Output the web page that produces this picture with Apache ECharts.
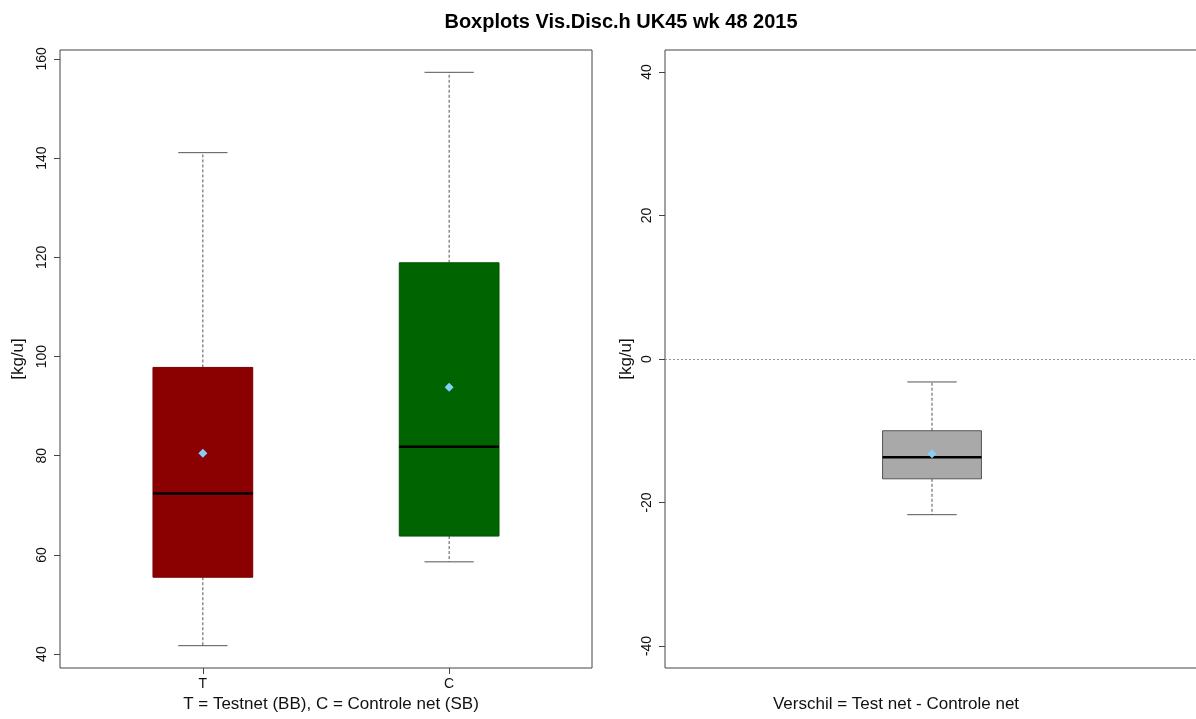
<!DOCTYPE html>
<html>
<head>
<meta charset="utf-8">
<script src="https://cdn.jsdelivr.net/npm/echarts@6/dist/echarts.min.js"></script>
<style>
html,body{margin:0;padding:0;background:#fff;overflow:hidden;width:1196px;height:719px;}
#chart{width:1204px;height:719px;}
</style>
</head>
<body>
<div id="chart"></div>
<script>
// ---- data ----
const categories = ['T', 'C'];
const lowWhisker = [41.7, 58.6];
const lowerQuartile = [55.5, 63.8];
const medians = [72.4, 81.8];
const upperQuartile = [97.8, 118.9];
const highWhisker = [141.1, 157.3];
const means = [80.5, 93.8];

const diffLow = [-21.7];
const diffLowerQuartile = [-16.7];
const diffMedian = [-13.7];
const diffUpperQuartile = [-10.0];
const diffHigh = [-3.2];
const diffMean = [-13.2];

const leftTicks = [40, 60, 80, 100, 120, 140, 160];
const rightTicks = [-40, -20, 0, 20, 40];

const titleText = 'Boxplots Vis.Disc.h UK45 wk 48 2015';
const leftXTitle = 'T = Testnet (BB), C = Controle net (SB)';
const rightXTitle = 'Verschil = Test net - Controle net';
const yName = '[kg/u]';

// ---- styles ----
const boxFills = ['#8B0000', '#006400'];
const boxStrokes = ['#7a0000', '#005500'];
const diffFill = '#A9A9A9';
const diffStroke = '#555555';
const meanColor = '#87CEFA';
const FONT = 'Liberation Sans, Arial, sans-serif';

const leftData = categories.map((c, i) => [i + 1, lowWhisker[i], lowerQuartile[i], medians[i], upperQuartile[i], highWhisker[i], means[i]]);
const rightData = diffMedian.map((m, i) => [i + 1, diffLow[i], diffLowerQuartile[i], m, diffUpperQuartile[i], diffHigh[i], diffMean[i]]);

function makeRender(boxW, capW, fills, strokes) {
  return function (params, api) {
    const x = api.value(0), lo = api.value(1), qa = api.value(2), md = api.value(3),
          qb = api.value(4), hi = api.value(5), mn = api.value(6);
    const i = params.dataIndex;
    const c = (xx, yy) => api.coord([xx, yy]);
    const pLo = c(x, lo), pA = c(x, qa), pB = c(x, qb), pHi = c(x, hi), pMn = c(x, mn);
    const tl = c(x - boxW / 2, qb), br = c(x + boxW / 2, qa);
    const mL = c(x - boxW / 2, md), mR = c(x + boxW / 2, md);
    const capL = c(x - capW / 2, hi)[0], capR = c(x + capW / 2, hi)[0];
    const whisk = {stroke: '#555', lineWidth: 1, lineDash: [3, 2]};
    const cap = {stroke: '#555', lineWidth: 1};
    const d = 4.5;
    return {
      type: 'group',
      children: [
        {type: 'line', shape: {x1: pB[0], y1: pB[1], x2: pHi[0], y2: pHi[1]}, style: whisk},
        {type: 'line', shape: {x1: pA[0], y1: pA[1], x2: pLo[0], y2: pLo[1]}, style: whisk},
        {type: 'line', shape: {x1: capL, y1: pHi[1], x2: capR, y2: pHi[1]}, style: cap},
        {type: 'line', shape: {x1: capL, y1: pLo[1], x2: capR, y2: pLo[1]}, style: cap},
        {type: 'rect', shape: {x: tl[0], y: tl[1], width: br[0] - tl[0], height: br[1] - tl[1]},
          style: {fill: fills[i % fills.length], stroke: strokes[i % strokes.length], lineWidth: 1}},
        {type: 'line', shape: {x1: mL[0], y1: mL[1], x2: mR[0], y2: mR[1]}, style: {stroke: '#000', lineWidth: 2.5}},
        {type: 'polygon', shape: {points: [[pMn[0], pMn[1] - d], [pMn[0] + d, pMn[1]], [pMn[0], pMn[1] + d], [pMn[0] - d, pMn[1]]]},
          style: {fill: meanColor}}
      ]
    };
  };
}

const chart = echarts.init(document.getElementById('chart'), null, {renderer: 'canvas'});

const yAxisCommon = {
  type: 'value',
  splitLine: {show: false},
  axisLine: {show: false},
  axisTick: {show: true, length: 6, lineStyle: {color: '#444'}},
  axisLabel: {rotate: 90, margin: 11, fontSize: 14, color: '#111', fontFamily: FONT},
  nameLocation: 'middle',
  nameRotate: 90,
  nameTextStyle: {fontSize: 17, color: '#111', fontFamily: FONT}
};

chart.setOption({
  animation: false,
  backgroundColor: '#fff',
  title: [
    {text: titleText, left: 616, top: 7, textAlign: 'center',
      textStyle: {fontSize: 20, fontWeight: 'bold', color: '#000', fontFamily: FONT}},
    {text: leftXTitle, left: 326, top: 691, textAlign: 'center',
      textStyle: {fontSize: 17, fontWeight: 'normal', color: '#111', fontFamily: FONT}},
    {text: rightXTitle, left: 891, top: 691, textAlign: 'center',
      textStyle: {fontSize: 17, fontWeight: 'normal', color: '#111', fontFamily: FONT}}
  ],
  grid: [
    {left: 60, top: 50, width: 532, bottom: 51, show: true, borderColor: '#444', borderWidth: 1},
    {left: 665, top: 50, width: 534, bottom: 51, show: true, borderColor: '#444', borderWidth: 1}
  ],
  xAxis: [
    {type: 'value', gridIndex: 0, min: 0.42, max: 2.58,
      splitLine: {show: false}, axisLine: {show: false},
      axisTick: {show: true, length: 6, customValues: categories.map((c, i) => i + 1), lineStyle: {color: '#444'}},
      axisLabel: {show: true, margin: 9, fontSize: 14, color: '#111', fontFamily: FONT,
        customValues: categories.map((c, i) => i + 1),
        formatter: v => categories[Math.round(v) - 1] || ''}},
    {type: 'value', gridIndex: 1, min: 0.46, max: 1.54,
      splitLine: {show: false}, axisLine: {show: false}, axisTick: {show: false}, axisLabel: {show: false}}
  ],
  yAxis: [
    Object.assign({}, yAxisCommon, {gridIndex: 0, min: 37.2, max: 161.8, name: yName, nameGap: 33,
      axisTick: Object.assign({}, yAxisCommon.axisTick, {customValues: leftTicks}),
      axisLabel: Object.assign({}, yAxisCommon.axisLabel, {customValues: leftTicks})}),
    Object.assign({}, yAxisCommon, {gridIndex: 1, min: -43.07, max: 43.07, name: yName, nameGap: 30,
      axisTick: Object.assign({}, yAxisCommon.axisTick, {customValues: rightTicks}),
      axisLabel: Object.assign({}, yAxisCommon.axisLabel, {customValues: rightTicks})})
  ],
  series: [
    {type: 'custom', xAxisIndex: 0, yAxisIndex: 0, data: leftData,
      encode: {x: 0, y: [1, 2, 3, 4, 5, 6]},
      renderItem: makeRender(0.405, 0.2, boxFills, boxStrokes)},
    {type: 'custom', xAxisIndex: 1, yAxisIndex: 1, data: rightData,
      encode: {x: 0, y: [1, 2, 3, 4, 5, 6]},
      renderItem: makeRender(0.2, 0.1, [diffFill], [diffStroke]),
      markLine: {silent: true, symbol: 'none', label: {show: false},
        lineStyle: {type: [2, 2], color: '#999', width: 1},
        data: [{yAxis: 0}]}}
  ]
});
</script>
</body>
</html>
